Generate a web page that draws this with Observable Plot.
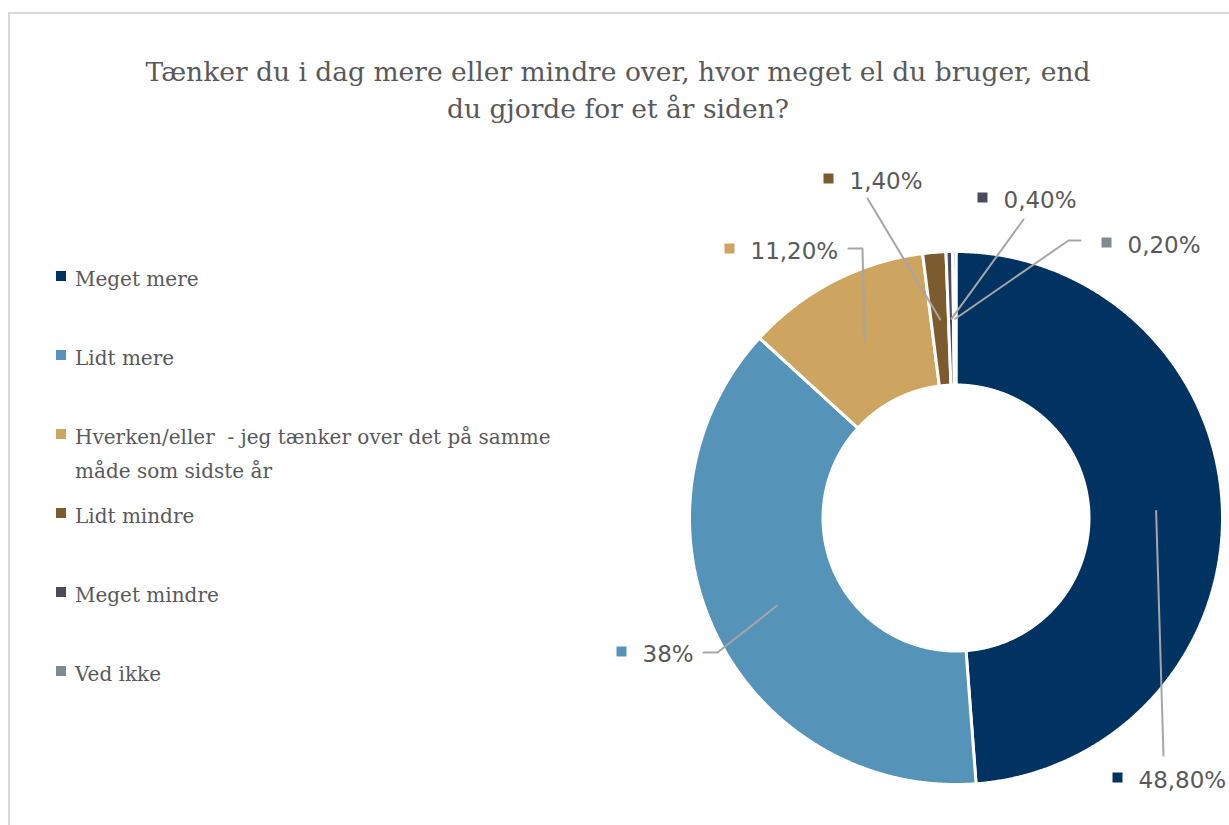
<!DOCTYPE html>
<html>
<head>
<meta charset="utf-8">
<script src="https://cdn.jsdelivr.net/npm/d3@7"></script>
<script src="https://cdn.jsdelivr.net/npm/@observablehq/plot@0.6"></script>
<style>
  html, body { margin: 0; padding: 0; background: #fff; width: 1229px; height: 825px; overflow: hidden; }
  #frame { position: absolute; left: 8px; top: 12px; width: 1260px; height: 860px; border: 2px solid #d9d9d9; box-sizing: border-box; }
  #chart { position: absolute; left: 0; top: 0; }
  #title { position: absolute; left: 0; width: 1236px; top: 53.3px; text-align: center;
           font-family: "DejaVu Serif", serif; font-size: 26.5px; line-height: 37px; color: #595959; }
  .lg { position: absolute; left: 75px; width: 510px; font-family: "DejaVu Serif", serif; font-size: 20px;
        line-height: 34px; color: #595959; white-space: pre-wrap; }
  .sw { position: absolute; left: 56px; width: 10px; height: 10px; }
</style>
</head>
<body>
<div id="frame"></div>
<div id="chart"></div>
<div id="title">Tænker du i dag mere eller mindre over, hvor meget el du bruger, end<br>du gjorde for et år siden?</div>
<div id="legend"></div>
<script>
// ---- data ----
const categories = [
  "Meget mere",
  "Lidt mere",
  "Hverken/eller  - jeg tænker over det på samme måde som sidste år",
  "Lidt mindre",
  "Meget mindre",
  "Ved ikke"
];
const values = [48.8, 38, 11.2, 1.4, 0.4, 0.2];
const valueLabels = ["48,80%", "38%", "11,20%", "1,40%", "0,40%", "0,20%"];
const colors = ["#003361", "#5593b9", "#cda460", "#7c5c2e", "#4c4b5c", "#7d8b95"];

// ---- layout (pixels) ----
const W = 1229, H = 825, cx = 956, cy = 518;
const rOut = 266.5, rIn = 133;
const labelLayout = [
  {tx: 1138, ty: 780, elbow: [[1163, 755]]},
  {tx: 642,  ty: 654, elbow: [[717, 652], [703, 652]]},
  {tx: 750,  ty: 251, elbow: [[862, 248], [848, 248]]},
  {tx: 849,  ty: 181, elbow: [[867, 198]]},
  {tx: 1003, ty: 200, elbow: [[1023, 219]]},
  {tx: 1127, ty: 245, elbow: [[1068, 240], [1080, 240]]}
];
const legendBaselines = [286, 365, 444, 523, 602, 681];

// ---- geometry from data ----
const arcs = d3.pie().sort(null).value(d => d)(values);
const arcPts = [];
arcs.forEach((a, i) => {
  const n = Math.max(2, Math.ceil((a.endAngle - a.startAngle) / 0.005));
  for (let k = 0; k <= n; k++) {
    const t = a.startAngle + (a.endAngle - a.startAngle) * k / n;
    arcPts.push({cat: categories[i], xi: rIn * Math.sin(t), yi: rIn * Math.cos(t),
                 xo: rOut * Math.sin(t), yo: rOut * Math.cos(t)});
  }
});
const px = x => x - cx, py = y => cy - y;
const leaderPts = [], labelPts = [];
arcs.forEach((a, i) => {
  const mid = (a.startAngle + a.endAngle) / 2, rm = (rIn + 2 + rOut) / 2 - 1;
  leaderPts.push({cat: categories[i], x: rm * Math.sin(mid), y: rm * Math.cos(mid)});
  labelLayout[i].elbow.forEach(([ex, ey]) => leaderPts.push({cat: categories[i], x: px(ex), y: py(ey)}));
  labelPts.push({cat: categories[i], text: valueLabels[i],
                 x: px(labelLayout[i].tx), y: py(labelLayout[i].ty),
                 sx: px(labelLayout[i].tx - 21), sy: py(labelLayout[i].ty - 3)});
});

const chart = Plot.plot({
  width: W, height: H, margin: 0,
  x: {domain: [-cx, W - cx], axis: null},
  y: {domain: [cy - H, cy], axis: null},
  color: {domain: categories, range: colors},
  style: {background: "transparent"},
  marks: [
    Plot.area(arcPts, {x1: "xi", y1: "yi", x2: "xo", y2: "yo", z: "cat", fill: "cat",
                       stroke: "white", strokeWidth: 3, strokeLinejoin: "miter"}),
    Plot.line(leaderPts, {x: "x", y: "y", z: "cat", stroke: "#a6a6a6", strokeWidth: 2}),
    Plot.dot(labelPts, {x: "sx", y: "sy", symbol: "square", r: 10 / Math.sqrt(Math.PI), fill: "cat", stroke: null}),
    Plot.text(labelPts, {x: "x", y: "y", text: "text", textAnchor: "start", fill: "#595959",
                         fontSize: 23, fontFamily: "DejaVu Sans"})
  ]
});
document.getElementById("chart").appendChild(chart);

// ---- legend ----
const lg = document.getElementById("legend");
categories.forEach((c, i) => {
  const b = legendBaselines[i];
  const sw = document.createElement("div");
  sw.className = "sw"; sw.style.top = (b - 15) + "px"; sw.style.background = colors[i];
  lg.appendChild(sw);
  const t = document.createElement("div");
  t.className = "lg"; t.style.top = (b - 23.9) + "px"; t.textContent = c;
  lg.appendChild(t);
});
</script>
</body>
</html>
